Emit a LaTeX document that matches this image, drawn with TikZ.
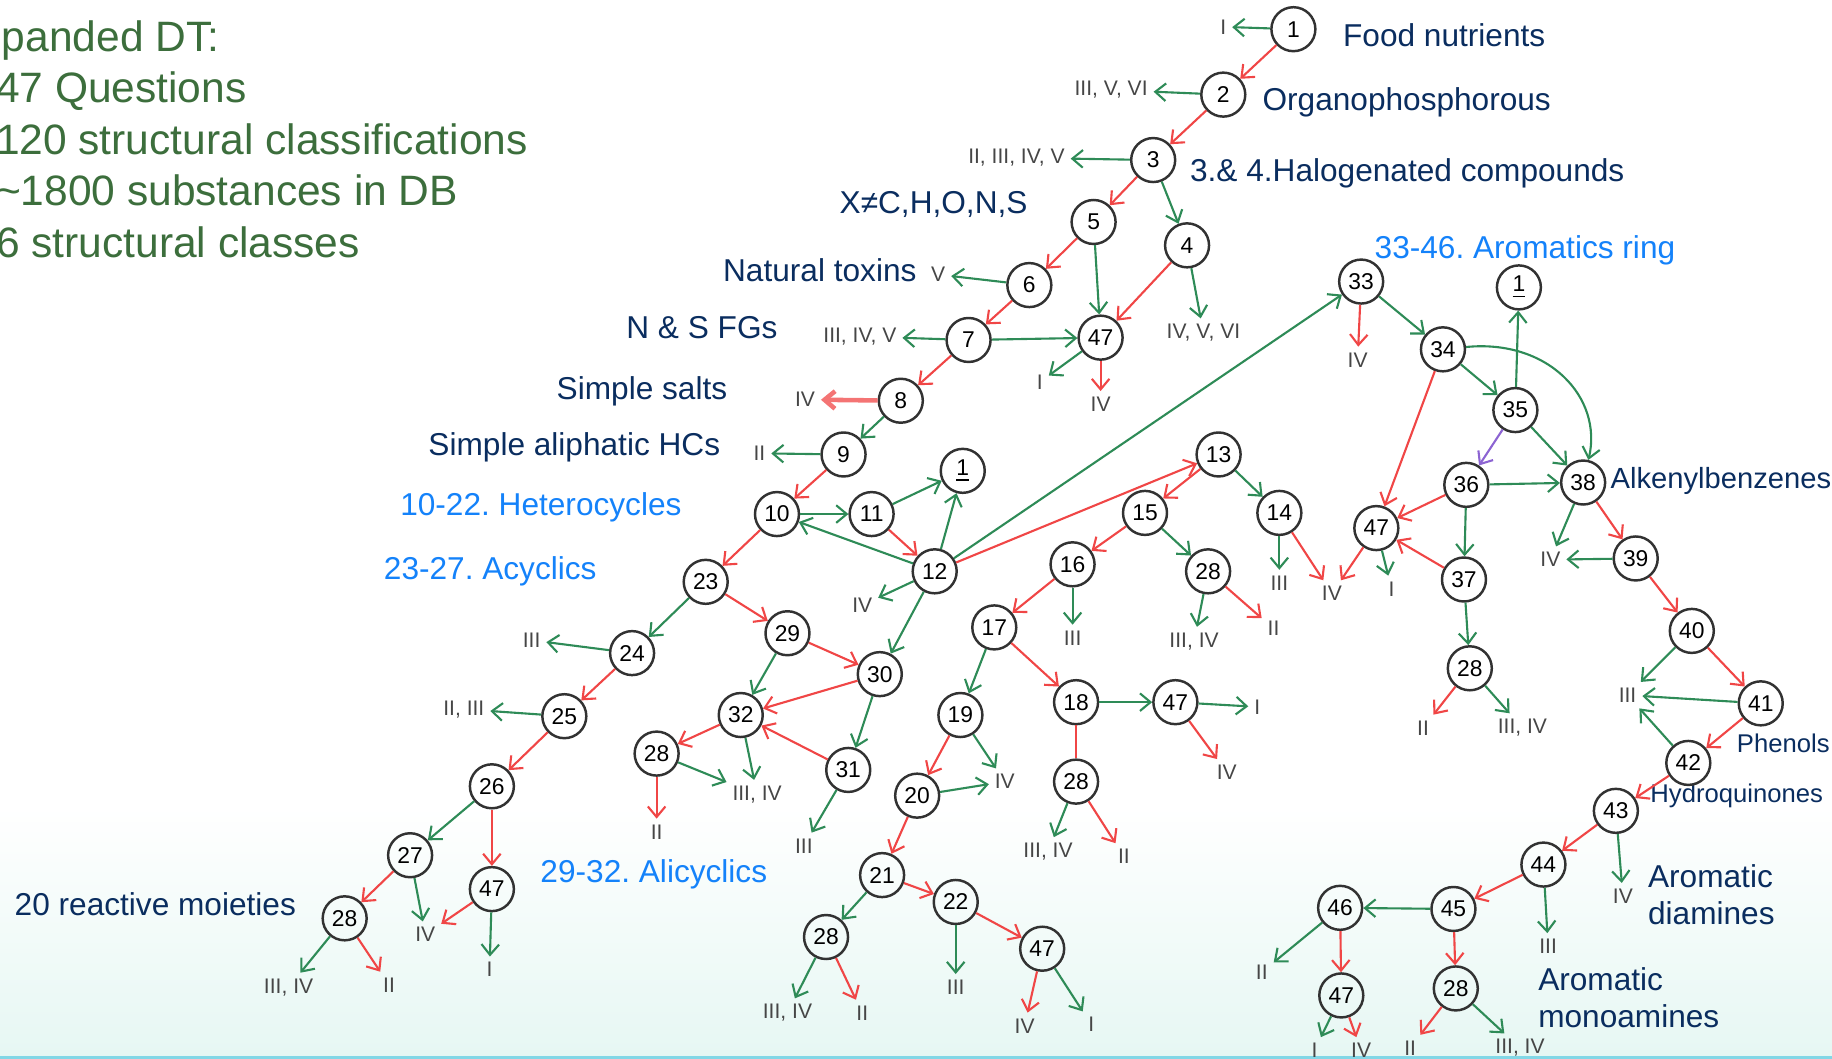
\documentclass[tikz,border=0pt]{standalone}
\usepackage{fontspec}
\setmainfont{Liberation Sans}
\usetikzlibrary{arrows.meta}

\definecolor{arrgreen}{RGB}{46,139,87}
\definecolor{arrred}{RGB}{240,70,70}
\definecolor{arrpurple}{RGB}{140,100,210}
\definecolor{navytext}{RGB}{10,45,95}
\definecolor{bluetext}{RGB}{20,130,250}
\definecolor{hdgreen}{RGB}{60,110,60}
\definecolor{leafgray}{RGB}{70,70,70}
\definecolor{nodegray}{RGB}{50,50,50}
\definecolor{mint}{RGB}{230,247,243}
\definecolor{edgecyan}{RGB}{130,215,230}

\begin{document}
\frenchspacing
\begin{tikzpicture}[x=0.011684cm, y=-0.011684cm,
  qn/.style={circle, draw=nodegray, line width=0.7pt, minimum size=0.44cm, inner sep=0pt, font=\fontsize{6.5}{7}\selectfont},
  lf/.style={text=leafgray, inner sep=1.5pt, font=\fontsize{6}{7}\selectfont},
  gline/.style={draw=arrgreen, line width=0.6pt, -{Straight Barb[length=3pt,width=5pt]}},
  rline/.style={draw=arrred, line width=0.6pt, -{Straight Barb[length=3pt,width=5pt]}},
  pline/.style={draw=arrpurple, line width=0.6pt, -{Straight Barb[length=3pt,width=5pt]}},
  tagtxt/.style={text=navytext, inner sep=0pt, font=\fontsize{9}{10.6}\selectfont},
  grptxt/.style={text=bluetext, inner sep=0pt, font=\fontsize{9}{10.6}\selectfont},
  hdtxt/.style={text=hdgreen, inner sep=0pt, font=\fontsize{12.1}{14}\selectfont}]

% Frame and background
\useasboundingbox (0,0) rectangle (1568,906);
\clip (0,0) rectangle (1568,906);
\shade[top color=white, bottom color=mint] (0,690) rectangle (1568,906);
\draw[edgecyan, line width=1pt] (0,905) -- (1568,905);

% Summary
\node[hdtxt, anchor=base west] (hd) at (1,44) {panded DT:};
\node[hdtxt, anchor=base west] (hq) at (-4,88) {47 Questions};
\node[hdtxt, anchor=base west] (hc) at (-4,132) {120 structural classifications};
\node[hdtxt, anchor=base west] (hs) at (-4,176) {\textasciitilde 1800 substances in DB};
\node[hdtxt, anchor=base west] (hk) at (-4,220) {6 structural classes};

% Class names
\node[tagtxt, anchor=west] (tFood) at (1149,30) {Food nutrients};
\node[tagtxt, anchor=west] (tOP) at (1080,88) {Organophosphorous};
\node[tagtxt, anchor=west] (tHal) at (1018,148) {3.\& 4.Halogenated compounds};
\node[tagtxt, anchor=east] (tX) at (880,175) {X≠C,H,O,N,S};
\node[tagtxt, anchor=east] (tNat) at (785,231) {Natural toxins};
\node[tagtxt, anchor=east] (tNS) at (666,280) {N \& S FGs};
\node[tagtxt, anchor=east] (tSalt) at (623,335) {Simple salts};
\node[tagtxt, anchor=east] (tAli) at (617,383) {Simple aliphatic HCs};
\node[grptxt, anchor=west] (gHet) at (342,434) {10-22. Heterocycles};
\node[grptxt, anchor=west] (gAcy) at (328,489) {23-27. Acyclics};
\node[grptxt, anchor=west] (gAlc) at (462,748) {29-32. Alicyclics};
\node[tagtxt, anchor=west] (tReact) at (12,774) {20 reactive moieties};
\node[grptxt, anchor=west] (gAro) at (1176,214) {33-46. Aromatics ring};
\node[tagtxt, anchor=west, font=\fontsize{8.3}{10}\selectfont] (tAlk) at (1378,412) {Alkenylbenzenes};
\node[tagtxt, anchor=west, font=\fontsize{7.3}{8}\selectfont] (tPhen) at (1486,636) {Phenols};
\node[tagtxt, anchor=west, font=\fontsize{7.3}{8}\selectfont] (tHyd) at (1412,681) {Hydroquinones};
\node[tagtxt, anchor=west, align=left] (tDia) at (1410,766) {Aromatic\\diamines};
\node[tagtxt, anchor=west, align=left] (tMono) at (1316,854) {Aromatic\\monoamines};

% Questions
\node[qn] (q1) at (1107,25) {1};
\node[qn] (q2) at (1047,81) {2};
\node[qn] (q3) at (987,137) {3};
\node[qn] (q5) at (936,190) {5};
\node[qn] (q4) at (1016,210) {4};
\node[qn] (q6) at (881,244) {6};
\node[qn] (q7) at (829,291) {7};
\node[qn] (q47a) at (942,289) {47};
\node[qn] (q8) at (771,343) {8};
\node[qn] (q9) at (722,389) {9};
\node[qn] (q10) at (665,440) {10};
\node[qn] (q11) at (746,440) {11};
\node[qn] (q1b) at (824,403) {\underline{1}};
\node[qn] (q12) at (800,489) {12};
\node[qn] (q13) at (1043,389) {13};
\node[qn] (q14) at (1095,439) {14};
\node[qn] (q15) at (980,439) {15};
\node[qn] (q16) at (918,483) {16};
\node[qn] (q28a) at (1034,489) {28};
\node[qn] (q17) at (851,537) {17};
\node[qn] (q18) at (921,601) {18};
\node[qn] (q47e) at (1006,601) {47};
\node[qn] (q28g) at (921,669) {28};
\node[qn] (q19) at (822,612) {19};
\node[qn] (q20) at (785,681) {20};
\node[qn] (q21) at (755,749) {21};
\node[qn] (q22) at (818,772) {22};
\node[qn] (q28h) at (707,802) {28};
\node[qn] (q47f) at (892,812) {47};
\node[qn] (q23) at (604,498) {23};
\node[qn] (q24) at (541,559) {24};
\node[qn] (q25) at (483,613) {25};
\node[qn] (q26) at (421,673) {26};
\node[qn] (q27) at (351,732) {27};
\node[qn] (q28e) at (295,786) {28};
\node[qn] (q47d) at (421,761) {47};
\node[qn] (q29) at (674,542) {29};
\node[qn] (q30) at (753,577) {30};
\node[qn] (q32) at (634,612) {32};
\node[qn] (q31) at (726,659) {31};
\node[qn] (q28f) at (562,645) {28};
\node[qn] (q33) at (1165,241) {33};
\node[qn] (q1c) at (1300,246) {\underline{1}};
\node[qn] (q34) at (1235,299) {34};
\node[qn] (q35) at (1297,351) {35};
\node[qn] (q36) at (1255,415) {36};
\node[qn] (q38) at (1355,413) {38};
\node[qn] (q47b) at (1178,452) {47};
\node[qn] (q37) at (1253,496) {37};
\node[qn] (q28c) at (1258,572) {28};
\node[qn] (q39) at (1400,478) {39};
\node[qn] (q40) at (1448,540) {40};
\node[qn] (q41) at (1507,602) {41};
\node[qn] (q42) at (1445,653) {42};
\node[qn] (q43) at (1383,694) {43};
\node[qn] (q44) at (1321,740) {44};
\node[qn] (q45) at (1244,778) {45};
\node[qn] (q46) at (1147,777) {46};
\node[qn] (q47c) at (1148,852) {47};
\node[qn] (q28d) at (1246,846) {28};

% Outcomes
\node[lf] (lA1) at (1047,23) {I};
\node[lf] (lA2) at (951,77) {III, V, VI};
\node[lf] (lA3) at (870,135) {II, III, IV, V};
\node[lf] (lA6) at (803,235) {V};
\node[lf] (lA7) at (736,288) {III, IV, V};
\node[lf] (lA8) at (689,342) {IV};
\node[lf] (lA9) at (650,388) {II};
\node[lf] (lB1) at (890,327) {I};
\node[lf] (lB2) at (942,346) {IV};
\node[lf] (lB3) at (1030,285) {IV, V, VI};
\node[lf] (lC1) at (1162,308) {IV};
\node[lf] (lC2) at (738,518) {IV};
\node[lf] (lC3) at (918,546) {III};
\node[lf] (lC4) at (1022,549) {III, IV};
\node[lf] (lC5) at (1090,538) {II};
\node[lf] (lC6) at (1095,499) {III};
\node[lf] (lC7) at (1140,508) {IV};
\node[lf] (lC8) at (1191,504) {I};
\node[lf] (lD1) at (1218,623) {II};
\node[lf] (lD2) at (1303,623) {III, IV};
\node[lf] (lD3) at (1327,479) {IV};
\node[lf] (lD4) at (1393,595) {III};
\node[lf] (lD5) at (1389,767) {IV};
\node[lf] (lD6) at (1325,810) {III};
\node[lf] (lD7) at (1080,832) {II};
\node[lf] (lD8) at (1125,899) {I};
\node[lf] (lD9) at (1165,899) {IV};
\node[lf] (lD10) at (1207,897) {II};
\node[lf] (lD11) at (1301,897) {III, IV};
\node[lf] (lE1) at (455,548) {III};
\node[lf] (lE2) at (397,607) {II, III};
\node[lf] (lE3) at (364,800) {IV};
\node[lf] (lE4) at (419,830) {I};
\node[lf] (lE5) at (247,845) {III, IV};
\node[lf] (lE6) at (333,843) {II};
\node[lf] (lF1) at (648,680) {III, IV};
\node[lf] (lF2) at (562,712) {II};
\node[lf] (lF3) at (688,724) {III};
\node[lf] (lG1) at (860,669) {IV};
\node[lf] (lG2) at (1076,605) {I};
\node[lf] (lG3) at (1050,661) {IV};
\node[lf] (lG4) at (897,729) {III, IV};
\node[lf] (lG5) at (962,733) {II};
\node[lf] (lG6) at (674,867) {III, IV};
\node[lf] (lG7) at (738,867) {II};
\node[lf] (lG8) at (818,845) {III};
\node[lf] (lG9) at (877,878) {IV};
\node[lf] (lG10) at (934,877) {I};

% Main trunk 1-10
\draw[gline] (q1) -- (lA1);
\draw[rline] (q1) -- (q2);
\draw[gline] (q2) -- (lA2);
\draw[rline] (q2) -- (q3);
\draw[gline] (q3) -- (lA3);
\draw[rline] (q3) -- (q5);
\draw[gline] (q3) -- (q4);
\draw[rline] (q5) -- (q6);
\draw[gline] (q5) -- (q47a);
\draw[rline] (q4) -- (q47a);
\draw[gline] (q4) -- (lB3);
\draw[gline] (q6) -- (lA6);
\draw[rline] (q6) -- (q7);
\draw[gline] (q7) -- (lA7);
\draw[gline] (q7) -- (q47a);
\draw[gline] (q47a) -- (lB1);
\draw[rline] (q47a) -- (lB2);
\draw[rline] (q7) -- (q8);
\draw[rline, draw=arrred!75, line width=1.3pt] (q8) -- (lA8);
\draw[gline] (q8) -- (q9);
\draw[gline] (q9) -- (lA9);
\draw[rline] (q9) -- (q10);

% Heterocycles
\draw[gline] (q10) -- (q11);
\draw[gline] (q11) -- (q1b);
\draw[rline] (q11) -- (q12);
\draw[gline] (q12) -- (q10);
\draw[gline] (q12) -- (q1b);
\draw[gline] (q12) -- (lC2);
\draw[gline] (q12) -- (q33);
\draw[rline] (q12) -- (q13);
\draw[gline] (q12) -- (q30);
\draw[rline] (q13) -- (q15);
\draw[gline] (q13) -- (q14);
\draw[gline] (q14) -- (lC6);
\draw[rline] (q14) -- (lC7);
\draw[rline] (q15) -- (q16);
\draw[gline] (q15) -- (q28a);
\draw[gline] (q28a) -- (lC4);
\draw[rline] (q28a) -- (lC5);
\draw[gline] (q16) -- (lC3);
\draw[rline] (q16) -- (q17);
\draw[gline] (q17) -- (q19);
\draw[rline] (q17) -- (q18);
\draw[gline] (q18) -- (q47e);
\draw[rline, -] (q18) -- (q28g);
\draw[gline] (q47e) -- (lG2);
\draw[rline] (q47e) -- (lG3);
\draw[gline] (q28g) -- (lG4);
\draw[rline] (q28g) -- (lG5);
\draw[gline] (q19) -- (lG1);
\draw[rline] (q19) -- (q20);
\draw[gline] (q20) -- (lG1);
\draw[rline] (q20) -- (q21);
\draw[gline] (q21) -- (q28h);
\draw[rline] (q21) -- (q22);
\draw[gline] (q28h) -- (lG6);
\draw[rline] (q28h) -- (lG7);
\draw[gline] (q22) -- (lG8);
\draw[rline] (q22) -- (q47f);
\draw[rline] (q47f) -- (lG9);
\draw[gline] (q47f) -- (lG10);

% Acyclics
\draw[rline] (q10) -- (q23);
\draw[gline] (q23) -- (q24);
\draw[rline] (q23) -- (q29);
\draw[gline] (q24) -- (lE1);
\draw[rline] (q24) -- (q25);
\draw[gline] (q25) -- (lE2);
\draw[rline] (q25) -- (q26);
\draw[gline] (q26) -- (q27);
\draw[rline] (q26) -- (q47d);
\draw[rline] (q27) -- (q28e);
\draw[gline] (q27) -- (lE3);
\draw[rline] (q47d) -- (lE3);
\draw[gline] (q47d) -- (lE4);
\draw[gline] (q28e) -- (lE5);
\draw[rline] (q28e) -- (lE6);

% Alicyclics
\draw[gline] (q29) -- (q32);
\draw[rline] (q29) -- (q30);
\draw[rline] (q30) -- (q32);
\draw[gline] (q30) -- (q31);
\draw[rline] (q31) -- (q32);
\draw[gline] (q31) -- (lF3);
\draw[rline] (q32) -- (q28f);
\draw[gline] (q32) -- (lF1);
\draw[gline] (q28f) -- (lF1);
\draw[rline] (q28f) -- (lF2);

% Aromatics
\draw[rline] (q33) -- (lC1);
\draw[gline] (q33) -- (q34);
\draw[gline] (q34) -- (q35);
\draw[gline] (q34) .. controls (1325,290) and (1372,340) .. (q38);
\draw[rline] (q34) -- (q47b);
\draw[gline] (q35) -- (q1c);
\draw[pline] (q35) -- (q36);
\draw[gline] (q35) -- (q38);
\draw[gline] (q36) -- (q38);
\draw[rline] (q36) -- (q47b);
\draw[gline] (q36) -- (q37);
\draw[rline] (q37) -- (q47b);
\draw[rline] (q47b) -- (lC7);
\draw[gline] (q47b) -- (lC8);
\draw[gline] (q37) -- (q28c);
\draw[rline] (q28c) -- (lD1);
\draw[gline] (q28c) -- (lD2);
\draw[gline] (q38) -- (lD3);
\draw[rline] (q38) -- (q39);
\draw[gline] (q39) -- (lD3);
\draw[rline] (q39) -- (q40);
\draw[gline] (q40) -- (lD4);
\draw[rline] (q40) -- (q41);
\draw[gline] (q41) -- (lD4);
\draw[rline] (q41) -- (q42);
\draw[gline] (q42) -- (lD4);
\draw[rline] (q42) -- (q43);
\draw[gline] (q43) -- (lD5);
\draw[rline] (q43) -- (q44);
\draw[gline] (q44) -- (lD6);
\draw[rline] (q44) -- (q45);
\draw[gline] (q45) -- (q46);
\draw[rline] (q45) -- (q28d);
\draw[gline] (q46) -- (lD7);
\draw[rline] (q46) -- (q47c);
\draw[gline] (q47c) -- (lD8);
\draw[rline] (q47c) -- (lD9);
\draw[rline] (q28d) -- (lD10);
\draw[gline] (q28d) -- (lD11);

\end{tikzpicture}
\end{document}
